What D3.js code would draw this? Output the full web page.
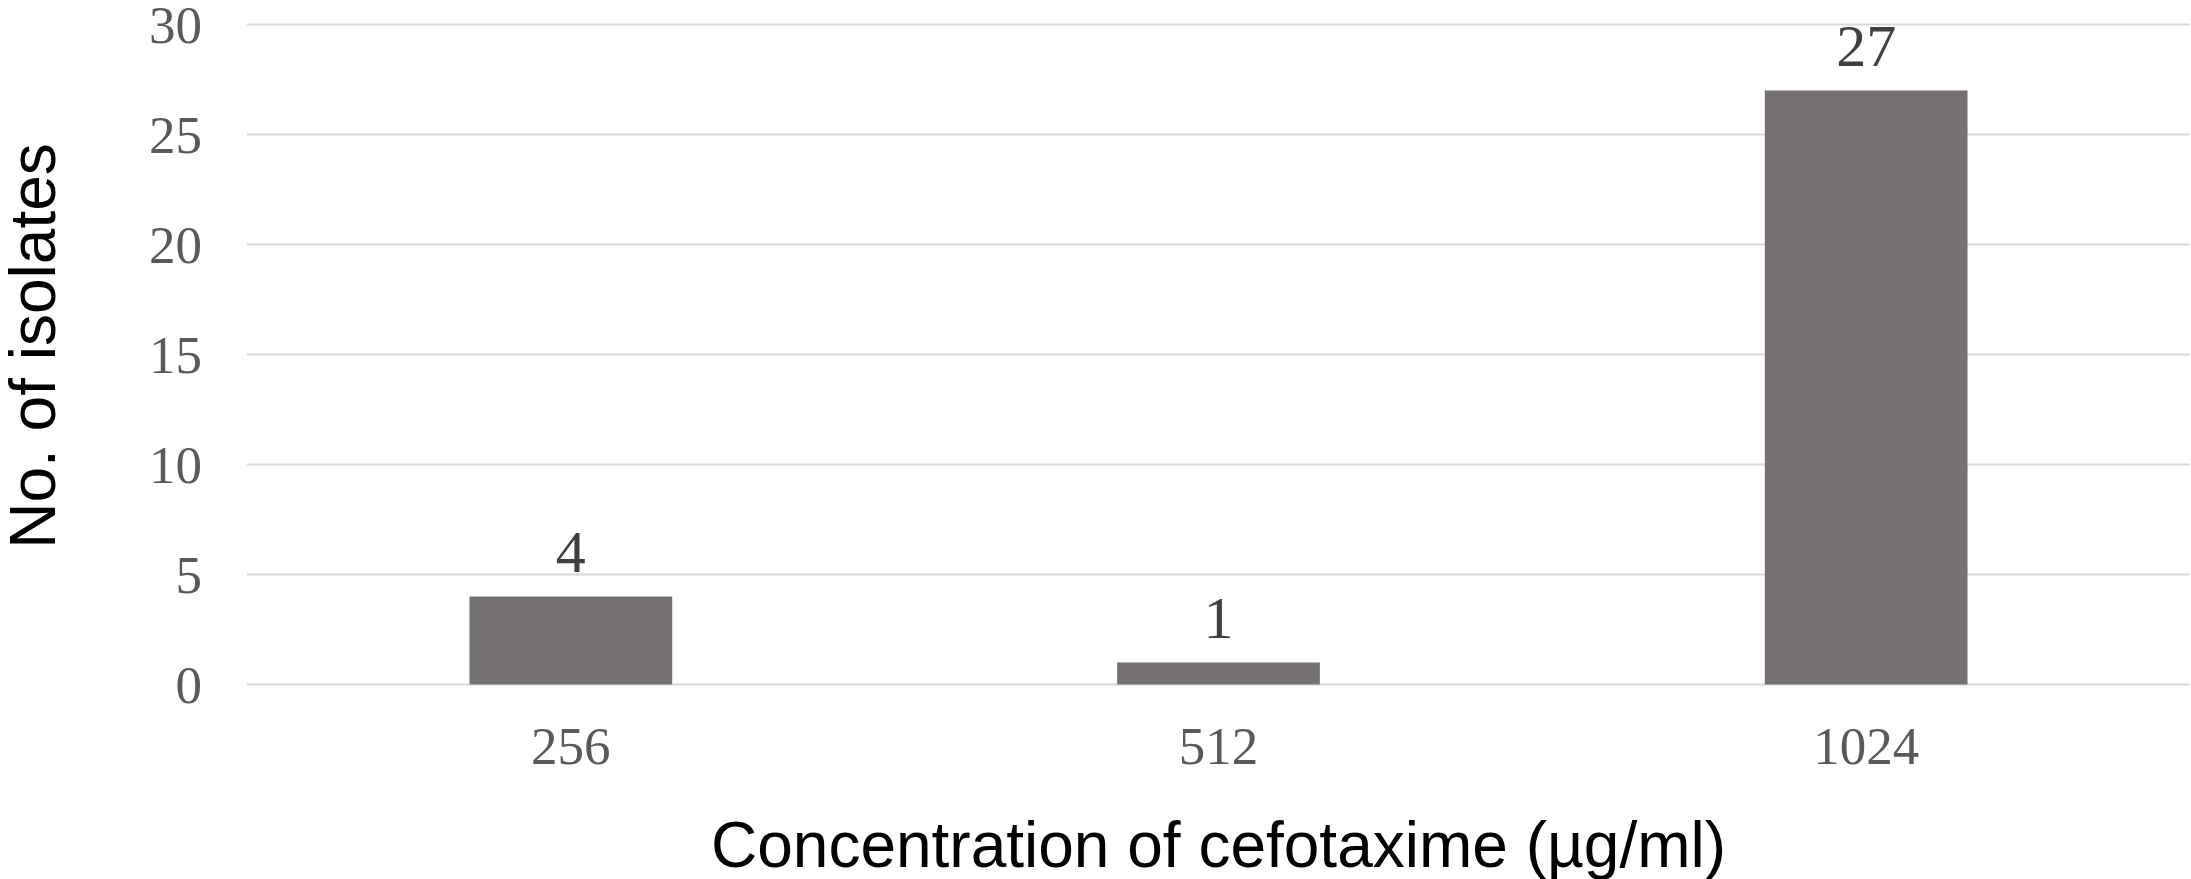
<!DOCTYPE html>
<html>
<head>
<meta charset="utf-8">
<script src="https://cdn.jsdelivr.net/npm/d3@7"></script>
<style>
  html, body { margin: 0; padding: 0; background: #ffffff; }
  svg { display: block; }
</style>
</head>
<body>
<svg id="chart" width="2191" height="879"></svg>
<script>
// Number of isolates per cefotaxime MIC
const categories = ["256", "512", "1024"];
const isolates = [4, 1, 27];
const yTicks = [0, 5, 10, 15, 20, 25, 30];

const svg = d3.select("#chart");
const plotLeft = 247, plotRight = 2190, plotTop = 24.5, plotBottom = 684.5;

const x = d3.scaleBand()
  .domain(categories)
  .range([plotLeft, plotRight])
  .paddingInner(0.687)
  .paddingOuter(0.3435);

const y = d3.scaleLinear()
  .domain([0, 30])
  .range([plotBottom, plotTop]);

// horizontal gridlines
svg.append("g")
  .selectAll("line")
  .data(yTicks)
  .join("line")
  .attr("x1", plotLeft)
  .attr("x2", plotRight)
  .attr("y1", d => y(d))
  .attr("y2", d => y(d))
  .attr("stroke", "#d9d9d9")
  .attr("stroke-width", 2);

// y axis labels
const yAxis = d3.axisLeft(y).tickValues(yTicks).tickSize(0).tickPadding(0);
const gy = svg.append("g")
  .attr("transform", "translate(202,0)")
  .call(yAxis);
gy.select(".domain").remove();
gy.selectAll("text")
  .attr("x", 0)
  .attr("dy", "0.34em")
  .attr("fill", "#595959")
  .style("font-family", "'Liberation Serif', 'Times New Roman', serif")
  .style("font-size", "53px");

// x axis labels
const xAxis = d3.axisBottom(x).tickSize(0).tickPadding(0);
const gx = svg.append("g")
  .attr("transform", `translate(0,${plotBottom})`)
  .call(xAxis);
gx.select(".domain").remove();
gx.selectAll("text")
  .attr("y", 79)
  .attr("dy", 0)
  .attr("fill", "#595959")
  .style("font-family", "'Liberation Serif', 'Times New Roman', serif")
  .style("font-size", "53px");

// bars
svg.append("g")
  .selectAll("rect")
  .data(isolates)
  .join("rect")
  .attr("x", (d, i) => x(categories[i]))
  .attr("width", x.bandwidth())
  .attr("y", d => y(d))
  .attr("height", d => y(0) - y(d))
  .attr("fill", "#767171");

// value labels
svg.append("g")
  .selectAll("text")
  .data(isolates)
  .join("text")
  .attr("x", (d, i) => x(categories[i]) + x.bandwidth() / 2)
  .attr("y", d => y(d) - 25)
  .attr("text-anchor", "middle")
  .attr("fill", "#404040")
  .style("font-family", "'Liberation Serif', 'Times New Roman', serif")
  .style("font-size", "60px")
  .text(d => d);

// axis titles
svg.append("text")
  .attr("x", (plotLeft + plotRight) / 2)
  .attr("y", 867)
  .attr("text-anchor", "middle")
  .attr("fill", "#000000")
  .style("font-family", "'Liberation Sans', Arial, sans-serif")
  .style("font-size", "64px")
  .text("Concentration of cefotaxime (µg/ml)");

svg.append("text")
  .attr("transform", "translate(55,346) rotate(-90)")
  .attr("text-anchor", "middle")
  .attr("fill", "#000000")
  .style("font-family", "'Liberation Sans', Arial, sans-serif")
  .style("font-size", "64px")
  .text("No. of isolates");
</script>
</body>
</html>
